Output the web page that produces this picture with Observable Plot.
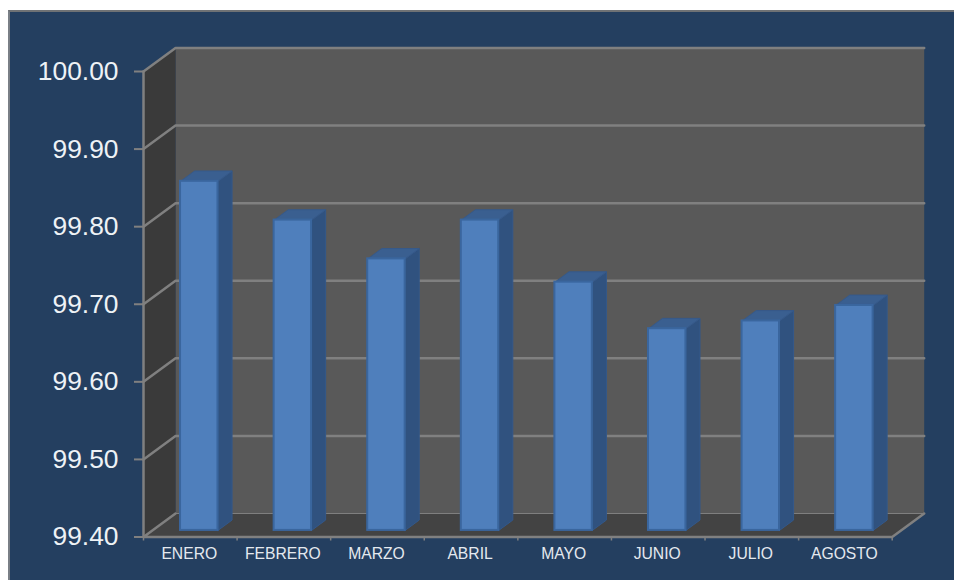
<!DOCTYPE html>
<html lang="es">
<head>
<meta charset="utf-8">
<script src="https://cdn.jsdelivr.net/npm/d3@7"></script>
<script src="https://cdn.jsdelivr.net/npm/@observablehq/plot@0.6"></script>
<style>
html,body{margin:0;padding:0;background:#fff;overflow:hidden}
#panel{position:absolute;left:8px;top:10px;width:946px;height:570px;box-sizing:border-box;background:#243f60;border-left:2px solid #7a7f86;border-top:2px solid #6f7275}
</style>
</head>
<body>
<div id="panel"></div>
<script>
const categories = ["ENERO","FEBRERO","MARZO","ABRIL","MAYO","JUNIO","JULIO","AGOSTO"];
const values = [99.85,99.80,99.75,99.80,99.72,99.66,99.67,99.69];
const yTicks = [99.4,99.5,99.6,99.7,99.8,99.9,100];
const yBase = 99.4, yTop = 100;
const depthX = 0.342, depthY = 0.0303;       // oblique projection, in data units
const barStart = 0.3, barEnd = 0.7;          // share of a category
const barNear = 0.28, barFar = 0.72;         // share of the chart's depth

const P = (cat, val, depth) => ({x: cat + depth * depthX, y: val + depth * depthY});
const poly = (i, pts) => [...pts, pts[0]].map(p => ({...p, i}));
const n = categories.length;

const backWall = poly(0, [P(0,yBase,1),P(n,yBase,1),P(n,yTop,1),P(0,yTop,1)]);
const sideWall = poly(0, [P(0,yBase,0),P(0,yBase,1),P(0,yTop,1),P(0,yTop,0)]);
const floor = poly(0, [P(0,yBase,0),P(n,yBase,0),P(n,yBase,1),P(0,yBase,1)]);
const gridLines = yTicks.filter(v => v > yBase).flatMap((v,i) => [P(0,v,0),P(0,v,1),P(n,v,1)].map(p => ({...p,i})));
const floorEdge = [P(0,yBase,1),P(n,yBase,1)];
const frontEdge = [P(0,yBase,1),P(0,yBase,0),P(n,yBase,0),P(n,yBase,1)];
const leftEdge = [P(0,yBase,0),P(0,yTop,0)];

const fronts = values.map((v,i) => {
  const a = P(i+barStart,yBase,barNear), b = P(i+barEnd,v,barNear);
  return {x1:a.x,x2:b.x,y1:a.y,y2:b.y};
});
const sides = values.flatMap((v,i) => poly(i,[P(i+barEnd,yBase,barNear),P(i+barEnd,yBase,barFar),P(i+barEnd,v,barFar),P(i+barEnd,v,barNear)]));
const tops = values.flatMap((v,i) => poly(i,[P(i+barStart,v,barNear),P(i+barEnd,v,barNear),P(i+barEnd,v,barFar),P(i+barStart,v,barFar)]));

const gray = "#808080";
const chart = Plot.plot({
  width: 954, height: 580,
  marginLeft: 143, marginRight: 62.3, marginTop: 71, marginBottom: 43.5,
  style: {background:"transparent", position:"absolute", left:0, top:0, fontFamily:"'Liberation Sans', Arial, sans-serif"},
  x: {domain:[0,n]},
  y: {domain:[yBase,yTop]},
  marks: [
    Plot.line(backWall,{x:"x",y:"y",fill:"#595959",stroke:"none"}),
    Plot.line(sideWall,{x:"x",y:"y",fill:"#3a3a3a",stroke:"none"}),
    Plot.line(floor,{x:"x",y:"y",fill:"#434343",stroke:"none"}),
    Plot.line(floorEdge,{x:"x",y:"y",stroke:gray,strokeWidth:1}),
    Plot.line(gridLines,{x:"x",y:"y",z:"i",stroke:gray,strokeWidth:2.5,strokeLinejoin:"miter"}),
    Plot.line(leftEdge,{x:"x",y:"y",stroke:gray,strokeWidth:2.5}),
    Plot.line(frontEdge,{x:"x",y:"y",stroke:gray,strokeWidth:2.5,strokeLinejoin:"miter"}),
    Plot.line(sides,{x:"x",y:"y",z:"i",fill:"#30527f",stroke:"#33588a",strokeWidth:1}),
    Plot.line(tops,{x:"x",y:"y",z:"i",fill:"#3a5f90",stroke:"#36598a",strokeWidth:1}),
    Plot.rect(fronts,{x1:"x1",x2:"x2",y1:"y1",y2:"y2",fill:"#4f7fbc",stroke:"#3a669e",strokeWidth:2}),
    Plot.axisY({ticks:yTicks,tickSize:9,tickPadding:16,tickFormat:d=>d.toFixed(2),fontSize:26.4,stroke:gray,strokeWidth:2,fill:"#eef2f6",color:"#eef2f6",label:null}),
    Plot.axisX({ticks:d3.range(n+1),tickSize:4,tickFormat:()=>"",stroke:gray,strokeWidth:1.5,label:null}),
    Plot.axisX({ticks:categories.map((c,i)=>i+0.5),tickSize:0,tickPadding:10.5,dx:-1,tickFormat:d=>categories[d-0.5],fontSize:15.7,fill:"#e4e9ef",color:"#e4e9ef",label:null})
  ]
});
document.body.appendChild(chart);
</script>
</body>
</html>
